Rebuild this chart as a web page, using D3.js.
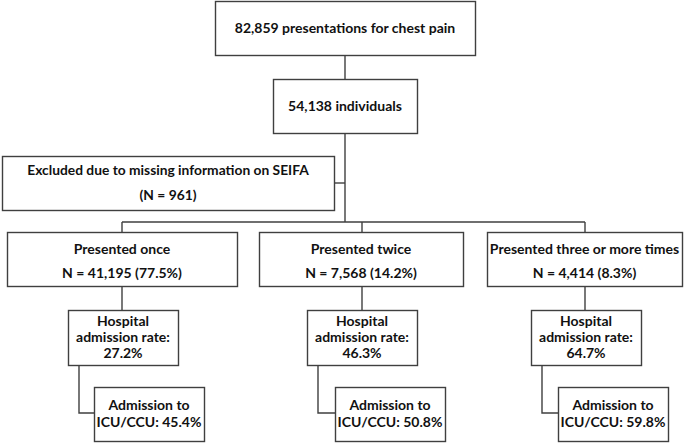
<!DOCTYPE html>
<html><head><meta charset="utf-8">
<script src="https://cdn.jsdelivr.net/npm/d3@7"></script>
<style>body{margin:0;background:#fff}svg{display:block}</style>
</head><body>
<script>
// Data
const totalPresentations = "82,859";
const individuals = "54,138";
const excludedN = "961";
const groups = ["Presented once", "Presented twice", "Presented three or more times"];
const groupN = ["41,195", "7,568", "4,414"];
const groupPct = ["77.5%", "14.2%", "8.3%"];
const admissionRate = ["27.2%", "46.3%", "64.7%"];
const icuRate = ["45.4%", "50.8%", "59.8%"];

const W = 685, H = 443;
const svg = d3.select("body").append("svg").attr("width", W).attr("height", H);
const stroke = "#3f3f3f", sw = 1.4;
const font = "Lato, 'Open Sans', sans-serif";

function box(x, y, w, h) {
  svg.append("rect").attr("x", x + .5).attr("y", y + .5).attr("width", w).attr("height", h)
    .attr("fill", "#fff").attr("stroke", stroke).attr("stroke-width", sw);
}
function text(cx, lines, baselines, size) {
  lines.forEach((t, i) => {
    svg.append("text").attr("x", cx).attr("y", baselines[i]).attr("text-anchor", "middle")
      .attr("font-family", font).attr("font-weight", "bold").attr("font-size", size)
      .attr("fill", "#111").text(t);
  });
}
function path(pts) {
  svg.append("path").attr("d", d3.line()(pts)).attr("fill", "none")
    .attr("stroke", stroke).attr("stroke-width", sw);
}

const centers = [122, 362, 585];
// connectors
path([[345, 55], [345, 79]]);
path([[345, 133], [345, 222]]);
path([[334, 183], [345, 183]]);
path([[centers[0], 222], [centers[2], 222]]);

// top boxes
box(215, 1, 260, 54);
text(345, [totalPresentations + " presentations for chest pain"], [33], 14);
box(273, 79, 144, 54);
text(345, [individuals + " individuals"], [111], 14);
box(2, 156, 332, 54);
text(168, ["Excluded due to missing information on SEIFA", "(N = " + excludedN + ")"], [175, 200], 13.8);

const gBoxes = [[7, 230], [259, 204], [487, 195]];
const hBoxes = [68, 307, 531];
const iBoxes = [94, 335, 558];
groups.forEach((g, i) => {
  const cx = centers[i];
  path([[cx, 222], [cx, 232]]);
  path([[cx, 286], [cx, 310]]);
  const hx = hBoxes[i], ix = iBoxes[i];
  path([[hx + 11, 365], [hx + 11, 413], [ix, 413]]);
  box(gBoxes[i][0], 232, gBoxes[i][1], 54);
  text(gBoxes[i][0] + gBoxes[i][1] / 2, [g, "N = " + groupN[i] + " (" + groupPct[i] + ")"], [254, 278], 14);
  box(hx, 310, 110, 55);
  text(hx + 55, ["Hospital", "admission rate:", admissionRate[i]], [326, 342, 358], 14);
  box(ix, 387, 110, 54);
  text(ix + 55, ["Admission to", "ICU/CCU: " + icuRate[i]], [410, 427], 14);
});
</script>
</body></html>
